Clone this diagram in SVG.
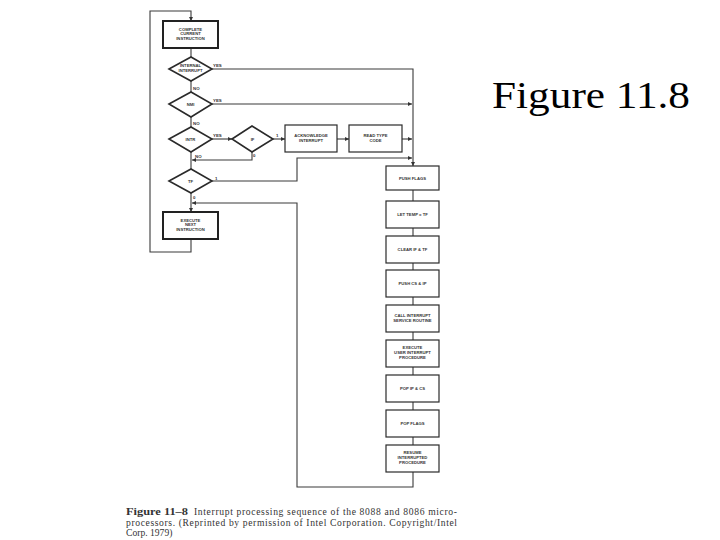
<svg xmlns="http://www.w3.org/2000/svg" width="720" height="540" viewBox="0 0 720 540">
<defs>
<style>
.ln{fill:none;stroke:#3a3a3a;stroke-width:1.1}
.bx{fill:#fff;stroke:#2a2a2a;stroke-width:1.2}
.bt{fill:#fff;stroke:#222;stroke-width:2}
.dm{fill:#fff;stroke:#2a2a2a;stroke-width:1.6}
.t{font-family:"Liberation Sans",Arial,sans-serif;font-weight:bold;font-size:4.2px;fill:#333;text-anchor:middle}
.lb{font-family:"Liberation Sans",Arial,sans-serif;font-weight:bold;font-size:4.4px;fill:#333}
.cap{font-family:"Liberation Serif","Times New Roman",serif;font-size:9.6px;fill:#333}
.ttl{font-family:"Liberation Serif","Times New Roman",serif;font-size:37px;fill:#000}
</style>
<marker id="ah" viewBox="0 0 6 6" refX="6" refY="3" markerWidth="4" markerHeight="4" orient="auto" markerUnits="userSpaceOnUse">
<path d="M0,0 L6,3 L0,6 z" fill="#333"/>
</marker>
</defs>
<rect width="720" height="540" fill="#fff"/>
<text class="ttl" x="492" y="108" textLength="198" lengthAdjust="spacingAndGlyphs">Figure 11.8</text>
<g id="connectors">
<path class="ln" d="M191,48 V57"/>
<path class="ln" d="M191,81 V92"/>
<path class="ln" d="M191,117 V127"/>
<path class="ln" d="M191,152 V169"/>
<path class="ln" d="M252,152 V160 H192" marker-end="url(#ah)"/>
<path class="ln" d="M191,193 V212" marker-end="url(#ah)"/>
<path class="ln" d="M191,239 V252 H150 V11 H191 V21" marker-end="url(#ah)"/>
<path class="ln" d="M212,69 H413 V166" marker-end="url(#ah)"/>
<path class="ln" d="M212,104 H412" marker-end="url(#ah)"/>
<path class="ln" d="M212,139 H232" marker-end="url(#ah)"/>
<path class="ln" d="M273,139 H285" marker-end="url(#ah)"/>
<path class="ln" d="M337,139 H349" marker-end="url(#ah)"/>
<path class="ln" d="M402,139 H412" marker-end="url(#ah)"/>
<path class="ln" d="M212,181 H297 V158 H412" marker-end="url(#ah)"/>
<path class="ln" d="M413,190 V201 M413,228 V236 M413,263 V270 M413,297 V305 M413,332 V340 M413,367 V375 M413,402 V410 M413,437 V445"/>
<path class="ln" d="M413,472 V487 H297 V203 H192" marker-end="url(#ah)"/>
</g>
<g id="labels">
<text class="lb" x="213" y="67">YES</text>
<text class="lb" x="193" y="90">NO</text>
<text class="lb" x="213" y="102">YES</text>
<text class="lb" x="193" y="125">NO</text>
<text class="lb" x="213" y="137">YES</text>
<text class="lb" x="276" y="137">1</text>
<text class="lb" x="253" y="157">0</text>
<text class="lb" x="195" y="158">NO</text>
<text class="lb" x="215" y="180">1</text>
<text class="lb" x="193" y="199">0</text>
</g>
<g id="complete">
<rect class="bt" x="163" y="21" width="55" height="27"/>
<text class="t" x="190.5" y="30.5">COMPLETE</text>
<text class="t" x="190.5" y="35.3">CURRENT</text>
<text class="t" x="190.5" y="40.1">INSTRUCTION</text>
</g>
<g id="internal">
<polygon class="dm" points="169,69 191,57 212,69 191,81"/>
<text class="t" x="190.5" y="67.3">INTERNAL</text>
<text class="t" x="190.5" y="72.3">INTERRUPT</text>
</g>
<g id="nmi">
<polygon class="dm" points="169,104 191,92 212,104 191,117"/>
<text class="t" x="190.5" y="106">NMI</text>
</g>
<g id="intr">
<polygon class="dm" points="169,139 191,127 212,139 191,152"/>
<text class="t" x="190.5" y="141">INTR</text>
</g>
<g id="if">
<polygon class="dm" points="232,139 252,126 273,139 252,152"/>
<text class="t" x="252.5" y="141">IF</text>
</g>
<g id="tf">
<polygon class="dm" points="169,181 191,169 212,181 191,193"/>
<text class="t" x="190.5" y="183">TF</text>
</g>
<g id="execnext">
<rect class="bt" x="163" y="212" width="55" height="27"/>
<text class="t" x="190.5" y="221.5">EXECUTE</text>
<text class="t" x="190.5" y="226.3">NEXT</text>
<text class="t" x="190.5" y="231.1">INSTRUCTION</text>
</g>
<g id="ack">
<rect class="bx" x="285" y="125" width="52" height="27"/>
<text class="t" x="311" y="136.6">ACKNOWLEDGE</text>
<text class="t" x="311" y="141.6">INTERRUPT</text>
</g>
<g id="readtype">
<rect class="bx" x="349" y="125" width="53" height="27"/>
<text class="t" x="375.5" y="136.6">READ TYPE</text>
<text class="t" x="375.5" y="141.6">CODE</text>
</g>
<g id="pushflags">
<rect class="bx" x="386" y="166" width="53" height="24"/>
<text class="t" x="412.5" y="179.5">PUSH FLAGS</text>
</g>
<g id="lettemp">
<rect class="bx" x="386" y="201" width="53" height="27"/>
<text class="t" x="412.5" y="216">LET TEMP = TF</text>
</g>
<g id="clear">
<rect class="bx" x="386" y="236" width="53" height="27"/>
<text class="t" x="412.5" y="251">CLEAR IF &amp; TF</text>
</g>
<g id="pushcs">
<rect class="bx" x="386" y="270" width="53" height="27"/>
<text class="t" x="412.5" y="285">PUSH CS &amp; IP</text>
</g>
<g id="call">
<rect class="bx" x="386" y="305" width="53" height="27"/>
<text class="t" x="412.5" y="316.6">CALL INTERRUPT</text>
<text class="t" x="412.5" y="321.6">SERVICE ROUTINE</text>
</g>
<g id="execuser">
<rect class="bx" x="386" y="340" width="53" height="27"/>
<text class="t" x="412.5" y="349.2">EXECUTE</text>
<text class="t" x="412.5" y="354">USER INTERRUPT</text>
<text class="t" x="412.5" y="358.8">PROCEDURE</text>
</g>
<g id="popip">
<rect class="bx" x="386" y="375" width="53" height="27"/>
<text class="t" x="412.5" y="390">POP IP &amp; CS</text>
</g>
<g id="popflags">
<rect class="bx" x="386" y="410" width="53" height="27"/>
<text class="t" x="412.5" y="425">POP FLAGS</text>
</g>
<g id="resume">
<rect class="bx" x="386" y="445" width="53" height="27"/>
<text class="t" x="412.5" y="454.2">RESUME</text>
<text class="t" x="412.5" y="459">INTERRUPTED</text>
<text class="t" x="412.5" y="463.8">PROCEDURE</text>
</g>
<g id="caption">
<text class="cap" x="126" y="515" font-weight="bold" textLength="62" lengthAdjust="spacingAndGlyphs">Figure 11–8</text>
<text class="cap" x="194" y="515" textLength="263">Interrupt processing sequence of the 8088 and 8086 micro-</text>
<text class="cap" x="126" y="525.5" textLength="331">processors. (Reprinted by permission of Intel Corporation. Copyright/Intel</text>
<text class="cap" x="126" y="535.5">Corp. 1979)</text>
</g>
</svg>
